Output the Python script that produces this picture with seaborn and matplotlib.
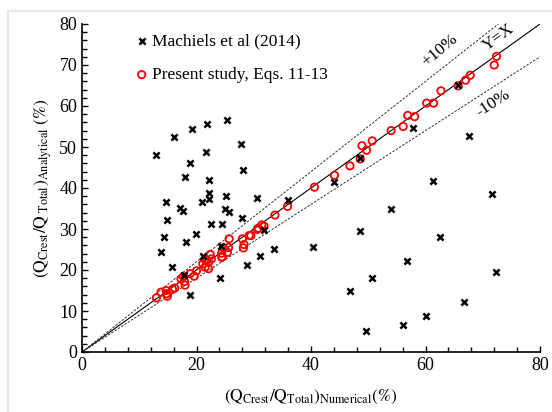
import numpy as np
import pandas as pd
import matplotlib
matplotlib.use("Agg")
import matplotlib.pyplot as plt
from matplotlib.lines import Line2D
from matplotlib.ticker import MultipleLocator
import seaborn as sns

# ---- data ----
mach_x = [25.4, 21.8, 19.3, 16.1, 13.0, 27.7, 21.7, 18.9, 28.2, 18.0, 22.2, 22.1, 22.2, 25.2, 20.9,
          30.6, 14.6, 17.2, 17.6, 25.0, 25.7, 27.9, 14.8, 22.5, 24.5, 19.9, 14.4, 18.1, 13.8, 24.2,
          31.8, 33.6, 31.1, 28.8, 21.2, 15.7, 24.1, 17.9, 18.9, 35.9, 44.0, 53.9, 48.5, 40.3, 61.3,
          71.7, 62.5, 56.8, 72.4, 50.7, 46.8, 66.8, 60.0, 56.0, 49.6, 57.9, 67.6, 65.7, 48.6]
mach_y = [56.5, 55.7, 54.5, 52.4, 48.0, 50.7, 48.9, 46.2, 44.4, 42.8, 42.0, 38.9, 37.3, 38.0, 36.5,
          37.6, 36.7, 35.2, 34.5, 34.8, 34.2, 32.8, 32.2, 31.3, 31.1, 28.7, 28.0, 26.9, 24.5, 25.9,
          29.7, 25.1, 23.4, 21.1, 23.4, 20.8, 18.0, 18.9, 14.0, 37.1, 41.5, 34.8, 29.4, 25.6, 41.8,
          38.6, 28.0, 22.1, 19.6, 18.0, 14.8, 12.2, 8.8, 6.5, 5.2, 54.6, 52.8, 65.0, 47.2]

pres_x = [13.0, 13.8, 14.7, 14.8, 14.9, 15.8, 16.2, 17.3, 17.9, 18.0, 17.7, 18.9, 19.6, 20.0, 21.1,
          21.5, 22.1, 21.5, 22.4, 22.1, 22.6, 21.8, 24.4, 24.4, 25.4, 24.7, 25.7, 25.6, 24.5, 28.0,
          28.3, 28.2, 29.2, 29.5, 30.8, 31.4, 31.8, 30.6, 33.7, 35.9, 40.6, 44.1, 46.8, 48.6, 48.9,
          49.7, 50.7, 54.0, 56.1, 56.9, 58.1, 60.2, 61.4, 62.7, 65.7, 67.0, 67.8, 72.0, 72.4]
pres_y = [13.2, 14.6, 15.0, 14.2, 13.6, 15.3, 15.6, 17.8, 17.2, 16.3, 18.4, 19.1, 18.5, 19.8, 21.5,
          20.7, 20.3, 22.5, 23.8, 21.9, 22.7, 22.4, 24.1, 23.1, 24.3, 25.4, 27.6, 25.5, 23.2, 27.6,
          26.2, 25.4, 28.4, 28.4, 30.2, 31.0, 30.7, 29.9, 33.4, 35.5, 40.2, 43.1, 45.4, 47.1, 50.3,
          49.2, 51.5, 54.0, 55.0, 57.7, 57.4, 60.7, 60.7, 63.7, 64.9, 66.3, 67.5, 70.0, 72.1]

mach_label = "Machiels et al (2014)"
pres_label = "Present study, Eqs. 11-13"

sns.set_style("ticks")
plt.rcParams["font.family"] = ["Liberation Serif", "DejaVu Serif"]
plt.rcParams["mathtext.fontset"] = "stix"
for k in ["text.color", "axes.labelcolor", "xtick.color", "ytick.color", "axes.edgecolor"]:
    plt.rcParams[k] = "black"

fig = plt.figure(figsize=(5.52, 4.12), dpi=100)
ax = fig.add_axes([82 / 552, 60 / 412, 458 / 552, 328 / 412])

# reference lines
xs = np.array([0, 80])
ax.plot(xs, xs, color="black", lw=0.8, zorder=1)
ax.plot([0, 80 / 1.1], [0, 80], color="#333333", lw=0.7, ls=(0, (2.5, 1.5)), zorder=1)
ax.plot([0, 80], [0, 72], color="#333333", lw=0.7, ls=(0, (2.5, 1.5)), zorder=1)

df_m = pd.DataFrame({"x": mach_x, "y": mach_y})
df_p = pd.DataFrame({"x": pres_x, "y": pres_y})

sns.scatterplot(data=df_p, x="x", y="y", ax=ax, marker="o", s=28,
                facecolor="none", edgecolor="red", linewidth=1.3, zorder=2,
                label=pres_label)
sns.scatterplot(data=df_m, x="x", y="y", ax=ax, marker="x", s=20,
                color="black", linewidth=1.8, zorder=3, label=mach_label)

h, l = ax.get_legend_handles_labels()
order = [l.index(mach_label), l.index(pres_label)]
ax.legend([h[i] for i in order], [l[i] for i in order], loc="upper left",
          bbox_to_anchor=(0.119, 0.972), frameon=False, fontsize=12.5,
          borderpad=0, borderaxespad=0, handlelength=0.6, handletextpad=0.3,
          labelspacing=1.02, scatterpoints=1)

ax.set_xlim(0, 80)
ax.set_ylim(0, 80)
ax.xaxis.set_major_locator(MultipleLocator(20))
ax.xaxis.set_minor_locator(MultipleLocator(4))
ax.yaxis.set_major_locator(MultipleLocator(10))
ax.yaxis.set_minor_locator(MultipleLocator(2))
ax.tick_params(which="both", direction="in", color="black", width=1.0, labelsize=13,
               labelcolor="black")
ax.tick_params(which="major", length=4.5)
ax.tick_params(which="minor", length=3.5)
for side in ["top", "right"]:
    ax.spines[side].set_visible(False)
for side in ["left", "bottom"]:
    ax.spines[side].set_color("black")
    ax.spines[side].set_linewidth(1.2)

ax.set_xlabel(r"$\mathrm{(Q_{Crest}/Q_{Total})_{Numerical}(\%)}$", fontsize=12.5, labelpad=10)
ax.set_ylabel(r"$\mathrm{(Q_{Crest}/Q_{\ Total})_{Analytical}\ (\%)}$", fontsize=12.5, labelpad=4)

ax.text(62.5, 73.6, "+10%", rotation=40, ha="center", va="center", fontsize=12.5)
ax.text(72.7, 76.8, "Y=X", rotation=36, ha="center", va="center", fontsize=12.5)
ax.text(71.8, 60.7, "-10%", rotation=33, ha="center", va="center", fontsize=12.5)

# light frame of the reference image
fig.add_artist(Line2D([8 / 552, 1], [1 - 11 / 412, 1 - 11 / 412], color="#e3e3e3", lw=1.2,
                      transform=fig.transFigure))
fig.add_artist(Line2D([8 / 552, 8 / 552], [0, 1 - 11 / 412], color="#e3e3e3", lw=1.2,
                      transform=fig.transFigure))

fig.savefig("out.png", dpi=100)
